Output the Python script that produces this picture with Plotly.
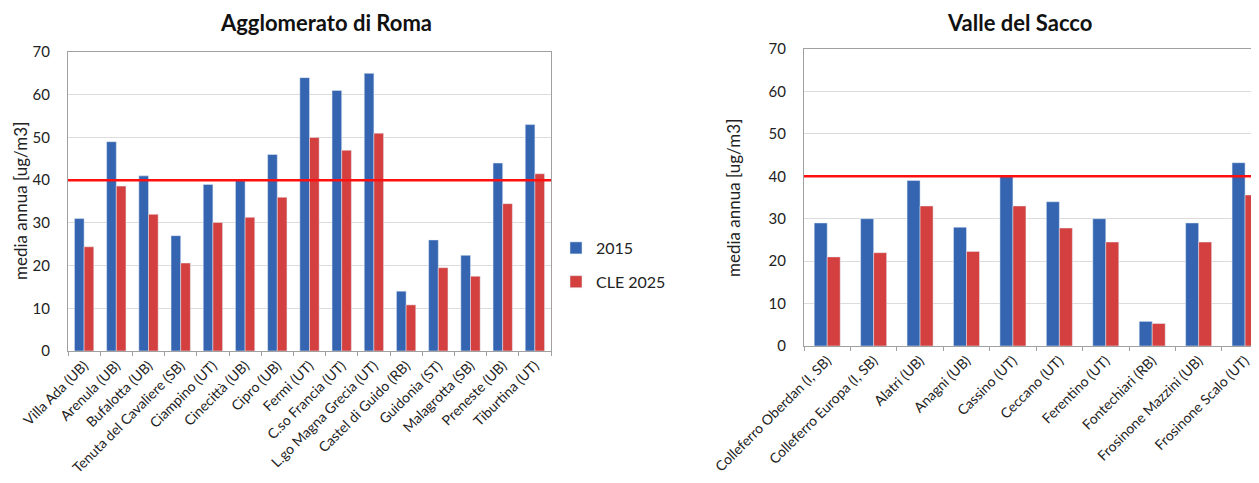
import plotly.graph_objects as go

# ---- data ----
roma_sites = ["Villa Ada (UB)", "Arenula (UB)", "Bufalotta (UB)", "Tenuta del Cavaliere (SB)",
              "Ciampino (UT)", "Cinecittà (UB)", "Cipro (UB)", "Fermi (UT)", "C.so Francia (UT)",
              "L.go Magna Grecia (UT)", "Castel di Guido (RB)", "Guidonia (ST)", "Malagrotta (SB)",
              "Preneste (UB)", "Tiburtina (UT)"]
roma_2015 = [31, 49, 41, 27, 39, 40, 46, 64, 61, 65, 14, 26, 22.4, 44, 53]
roma_cle2025 = [24.4, 38.6, 32, 20.6, 30.1, 31.3, 36, 50, 47, 51, 10.8, 19.5, 17.5, 34.5, 41.5]

sacco_sites = ["Colleferro Oberdan (I, SB)", "Colleferro Europa (I, SB)", "Alatri (UB)", "Anagni (UB)",
               "Cassino (UT)", "Ceccano (UT)", "Ferentino (UT)", "Fontechiari (RB)",
               "Frosinone Mazzini (UB)", "Frosinone Scalo (UT)"]
sacco_2015 = [29, 30, 39, 28, 40, 34, 30, 5.8, 29, 43.2]
sacco_cle2025 = [21, 22, 33, 22.3, 33, 27.8, 24.5, 5.3, 24.5, 35.6]

series_names = ["2015", "CLE 2025"]
limit_value = 40
y_ticks = [0, 10, 20, 30, 40, 50, 60, 70]

BLUE = "#3565b1"
RED = "#d3403f"
FONT = "Lato, 'Open Sans', sans-serif"
# the page body has an 8px default margin; size the figure to the visible area
OFF = 8
W, H = 1259 - OFF, 483 - OFF

def px_x(p):  # screen px -> paper fraction
    return (p - OFF) / W

def px_y(p):
    return 1 - (p - OFF) / H

fig = go.Figure()
LW, RW = 0.30, 0.28
fig.add_trace(go.Bar(x=roma_sites, y=roma_2015, name=series_names[0], marker_color=BLUE,
                     xaxis="x", yaxis="y", legendgroup="a", width=LW, offset=-LW))
fig.add_trace(go.Bar(x=roma_sites, y=roma_cle2025, name=series_names[1], marker_color=RED,
                     xaxis="x", yaxis="y", legendgroup="b", width=LW, offset=0))
fig.add_trace(go.Bar(x=sacco_sites, y=sacco_2015, name=series_names[0], marker_color=BLUE,
                     xaxis="x2", yaxis="y2", showlegend=False, legendgroup="a", width=RW, offset=-RW))
fig.add_trace(go.Bar(x=sacco_sites, y=sacco_cle2025, name=series_names[1], marker_color=RED,
                     xaxis="x2", yaxis="y2", showlegend=False, legendgroup="b", width=RW, offset=0))

axis_common = dict(showline=True, linecolor="#a0a0a0", linewidth=1, mirror=True, automargin=False)
xcommon = dict(axis_common, type="category", tickangle=-45, ticks="outside", tickson="boundaries",
               ticklen=4, tickcolor="#a0a0a0", showgrid=False,
               tickfont=dict(family=FONT, size=14, color="#222"))
ycommon = dict(axis_common, range=[0, 70], tickvals=y_ticks, showgrid=True, gridcolor="#dcdcdc",
               ticks="", ticklabelstandoff=14, zeroline=False,
               tickfont=dict(family=FONT, size=15, color="#222"))

fig.update_layout(
    width=W, height=H,
    margin=dict(l=0, r=0, t=0, b=0),
    paper_bgcolor="white", plot_bgcolor="white",
    barmode="overlay",
    font=dict(family=FONT, color="#222"),
    xaxis=dict(xcommon, domain=[px_x(68), px_x(551)], anchor="y", range=[-0.5, 14.5]),
    yaxis=dict(ycommon, domain=[px_y(351), px_y(52)], anchor="x"),
    xaxis2=dict(xcommon, domain=[px_x(804), 1.0], anchor="y2", range=[-0.5, 9.3]),
    yaxis2=dict(ycommon, domain=[px_y(346), px_y(49)], anchor="x2"),
    showlegend=True,
    legend=dict(x=px_x(556), y=px_y(231), xanchor="left", yanchor="top",
                font=dict(family=FONT, size=16, color="#222"), tracegroupgap=10,
                traceorder="grouped", bgcolor="rgba(0,0,0,0)"),
)

fig.add_shape(type="line", xref="x domain", yref="y", x0=0, x1=1, y0=limit_value, y1=limit_value,
              line=dict(color="#ff1010", width=2.5))
fig.add_shape(type="line", xref="x2 domain", yref="y2", x0=0, x1=1, y0=limit_value, y1=limit_value,
              line=dict(color="#ff1010", width=2.5))

fig.add_annotation(text="<b>Agglomerato di Roma</b>", xref="paper", yref="paper",
                   x=px_x(326), y=1.0, xanchor="center", yanchor="top", showarrow=False,
                   borderpad=0, font=dict(family=FONT, size=22, color="#111"))
fig.add_annotation(text="<b>Valle del Sacco</b>", xref="paper", yref="paper",
                   x=px_x(1019), y=1.0, xanchor="center", yanchor="top", showarrow=False,
                   borderpad=0, font=dict(family=FONT, size=22, color="#111"))
fig.add_annotation(text="media annua [ug/m3]", xref="paper", yref="paper",
                   x=px_x(20), y=px_y(201), xanchor="center", yanchor="middle", showarrow=False,
                   textangle=-90, font=dict(family=FONT, size=17, color="#222"))
fig.add_annotation(text="media annua [ug/m3]", xref="paper", yref="paper",
                   x=px_x(733), y=px_y(198), xanchor="center", yanchor="middle", showarrow=False,
                   textangle=-90, font=dict(family=FONT, size=17, color="#222"))

fig.write_html("out.html")
